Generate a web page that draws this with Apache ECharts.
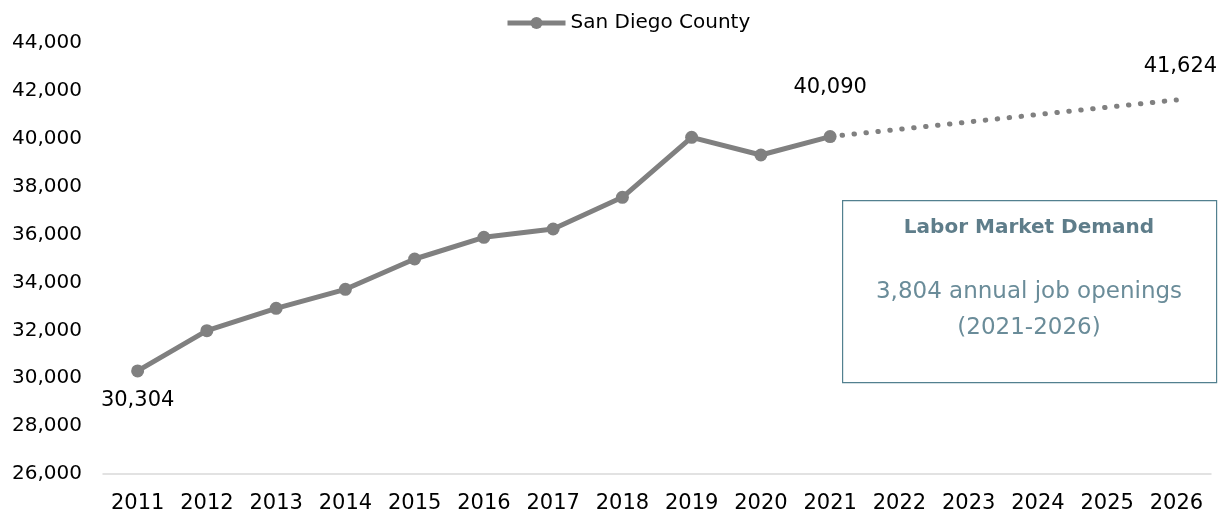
<!DOCTYPE html>
<html>
<head>
<meta charset="utf-8">
<script src="https://cdn.jsdelivr.net/npm/echarts@6/dist/echarts.min.js"></script>
<style>
  html, body { margin: 0; padding: 0; background: #fff; }
  #chart { width: 1230px; height: 518px; }
</style>
</head>
<body>
<div id="chart"></div>
<script>
// data
var years = ['2011', '2012', '2013', '2014', '2015', '2016', '2017', '2018',
  '2019', '2020', '2021', '2022', '2023', '2024', '2025', '2026']
var jobs = [30304, 31985, 32920, 33714, 34979, 35886, 36232, 37556,
  40060, 39323, 40090, null, null, null, null, null]
var projection = [null, null, null, null, null, null, null, null,
  null, null, 40090, null, null, null, null, 41624]
var labelled = ['2011', '2021']
var boxTitle = 'Labor Market Demand'
var boxLines = ['3,804 annual job openings', '(2021-2026)']

var font = 'DejaVu Sans'
var grey = '#808080'

function fmt(v) {
  return Number(v).toLocaleString('en-US')
}

var chart = echarts.init(document.getElementById('chart'))

var option = {
  backgroundColor: '#fff',
  animation: false,
  textStyle: { fontFamily: font },
  grid: { left: 103, right: 19, top: 43, bottom: 44 },
  legend: {
    data: ['San Diego County'],
    top: 8,
    left: 500,
    itemWidth: 58,
    itemHeight: 15,
    itemGap: 4,
    lineStyle: { width: 5, color: grey },
    textStyle: { fontSize: 20, color: '#000', fontFamily: font, padding: [0, 0, 0, 0] }
  },
  xAxis: {
    type: 'category',
    data: years,
    boundaryGap: true,
    axisLine: { lineStyle: { color: '#d9d9d9', width: 1.5 } },
    axisTick: { show: false },
    axisLabel: { fontSize: 21, color: '#000', margin: 19, interval: 0 }
  },
  yAxis: {
    type: 'value',
    min: 26000,
    max: 44000,
    interval: 2000,
    axisLine: { show: false },
    axisTick: { show: false },
    splitLine: { show: false },
    axisLabel: { fontSize: 20, color: '#000', margin: 21, formatter: fmt }
  },
  series: [
    {
      name: 'San Diego County',
      type: 'line',
      data: jobs.map(function(v, i) {
        return {
          value: v,
          label: { show: labelled.indexOf(years[i]) >= 0 }
        }
      }),
      symbol: 'circle',
      symbolSize: 13,
      lineStyle: { color: grey, width: 5 },
      itemStyle: { color: grey },
      label: {
        show: false,
        fontSize: 21,
        color: '#000',
        formatter: function(p) { return fmt(p.value) }
      },
      labelLayout: function(p) {
        if (p.dataIndex === 0) return { dy: 52 }
        return { dy: -27 }
      },
      z: 3
    },
    {
      name: 'Projection',
      type: 'line',
      data: projection.map(function(v, i) {
        return { value: v, label: { show: i === projection.length - 1 } }
      }),
      connectNulls: true,
      symbol: 'circle',
      symbolSize: 0,
      lineStyle: { color: grey, width: 5, type: [0.5, 11.5], cap: 'round' },
      itemStyle: { color: grey },
      label: {
        show: false,
        position: 'top',
        distance: 23,
        offset: [4, 0],
        fontSize: 21,
        color: '#000',
        formatter: function(p) { return fmt(p.value) }
      },
      z: 2
    }
  ],
  graphic: [
    {
      type: 'rect',
      left: 842,
      top: 200,
      shape: { width: 374, height: 182 },
      style: { fill: '#fff', stroke: '#52808f', lineWidth: 1.2 }
    },
    {
      type: 'text',
      x: 1029,
      y: 228,
      style: {
        text: boxTitle,
        align: 'center',
        verticalAlign: 'middle',
        fontSize: 20,
        fontWeight: 'bold',
        fontFamily: font,
        fill: '#5e7d8a'
      }
    }
  ]
}

// the two body lines of the box
boxLines.forEach(function(t, i) {
  option.graphic.push({
    type: 'text',
    x: 1029,
    y: 292 + i * 36,
    style: {
      text: t,
      align: 'center',
      verticalAlign: 'middle',
      fontSize: 23,
      fontFamily: font,
      fill: '#6a8c99'
    }
  })
})

chart.setOption(option)
</script>
</body>
</html>
